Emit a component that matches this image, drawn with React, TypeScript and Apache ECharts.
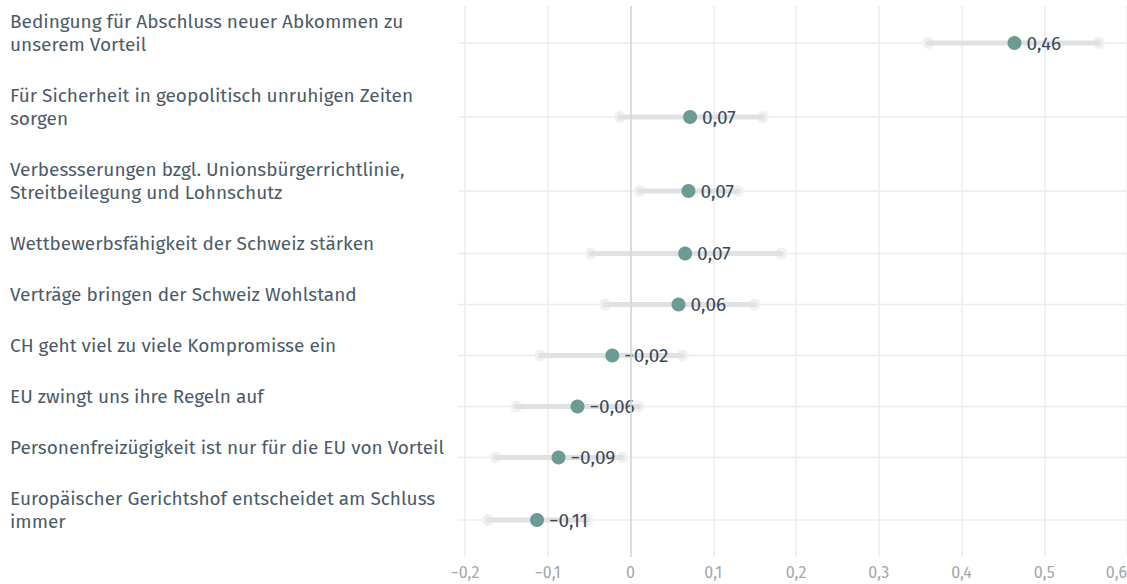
import React, { useEffect, useRef } from "react";
import * as echarts from "echarts";

const categories = [
  "Bedingung für Abschluss neuer Abkommen zu\nunserem Vorteil",
  "Für Sicherheit in geopolitisch unruhigen Zeiten\nsorgen",
  "Verbessserungen bzgl. Unionsbürgerrichtlinie,\nStreitbeilegung und Lohnschutz",
  "Wettbewerbsfähigkeit der Schweiz stärken",
  "Verträge bringen der Schweiz Wohlstand",
  "CH geht viel zu viele Kompromisse ein",
  "EU zwingt uns ihre Regeln auf",
  "Personenfreizügigkeit ist nur für die EU von Vorteil",
  "Europäischer Gerichtshof entscheidet am Schluss\nimmer",
];
const estimates = [0.464, 0.072, 0.07, 0.066, 0.058, -0.022, -0.064, -0.087, -0.113];
const ciLow = [0.36, -0.013, 0.011, -0.048, -0.031, -0.109, -0.138, -0.163, -0.172];
const ciHigh = [0.566, 0.16, 0.13, 0.182, 0.15, 0.063, 0.01, -0.01, -0.052];
const xTicks = [-0.2, -0.1, 0, 0.1, 0.2, 0.3, 0.4, 0.5, 0.6];

const FONT = "'Fira Sans', 'Open Sans', 'Noto Sans', sans-serif";

function fmt(v: number, digits: number): string {
  const s = Math.abs(v).toFixed(digits).replace(".", ",");
  if (Math.abs(v) < 1e-9) return "0";
  return (v < 0 ? "−" : "") + s;
}

// row layout: height grows with number of label lines
const rowHeights = categories.map((c) => 28 + 23 * c.split("\n").length);
const rowCenters: number[] = [];
{
  let acc = 0;
  rowHeights.forEach((h) => {
    rowCenters.push(acc + h / 2);
    acc += h;
  });
}
const totalHeight = rowHeights.reduce((a, b) => a + b, 0);

export default function App() {
  const ref = useRef<HTMLDivElement>(null);
  useEffect(() => {
    if (!ref.current) return;
    const chart = echarts.init(ref.current, undefined, { renderer: "svg" });
    const rows = categories.map((c, i) => [ciLow[i], ciHigh[i], rowCenters[i], i]);
    chart.setOption({
      animation: false,
      grid: {
        left: 465,
        right: 0,
        top: 6,
        bottom: 584 - 6 - totalHeight,
        containLabel: false,
        outerBoundsMode: "none",
      },
      xAxis: {
        type: "value",
        min: xTicks[0],
        max: xTicks[xTicks.length - 1],
        interval: 0.1,
        axisLine: { show: false },
        axisTick: { show: false },
        splitLine: { show: true, lineStyle: { color: "#ececec", width: 1.5 } },
        axisLabel: {
          color: "#a0a7ae",
          fontSize: 16,
          lineHeight: 18,
          fontFamily: FONT,
          margin: 6,
          hideOverlap: false,
          alignMaxLabel: "right",
          formatter: (v: number) => fmt(v, 1),
        },
      },
      yAxis: {
        type: "value",
        min: 0,
        max: totalHeight,
        inverse: true,
        show: false,
      },
      series: [
        {
          type: "custom",
          silent: true,
          data: rows,
          encode: { x: [0, 1], y: 2 },
          clip: false,
          renderItem: (params: any, api: any) => {
            const lo = api.coord([api.value(0), api.value(2)]);
            const hi = api.coord([api.value(1), api.value(2)]);
            const idx = api.value(3);
            const cs = params.coordSys;
            const y = lo[1];
            return {
              type: "group",
              children: [
                {
                  type: "line",
                  shape: { x1: cs.x - 7, y1: y, x2: cs.x + cs.width, y2: y },
                  style: { stroke: "#ececec", lineWidth: 1.5 },
                },
                {
                  type: "text",
                  x: 10,
                  y: y - 10.5,
                  style: {
                    text: categories[idx],
                    fill: "#4b5b69",
                    font: `19px ${FONT}`,
                    align: "left",
                    verticalAlign: "middle",
                    lineHeight: 23,
                  },
                },
                {
                  type: "circle",
                  shape: { cx: lo[0], cy: y, r: 6 },
                  style: { fill: "#f0f1f2" },
                },
                {
                  type: "circle",
                  shape: { cx: hi[0], cy: y, r: 6 },
                  style: { fill: "#f0f1f2" },
                },
                {
                  type: "line",
                  shape: { x1: lo[0], y1: y, x2: hi[0], y2: y },
                  style: { stroke: "#dfe2e5", lineWidth: 5, lineCap: "round" },
                },
              ],
            };
          },
          markLine: {
            silent: true,
            symbol: "none",
            label: { show: false },
            lineStyle: { color: "#d6d6d6", width: 1.5, type: "solid" },
            data: [{ xAxis: 0 }],
          },
          z: 1,
        },
        {
          type: "scatter",
          data: estimates.map((v, i) => [v, rowCenters[i]]),
          symbolSize: 14,
          itemStyle: { color: "#6c9a95", opacity: 1 },
          label: {
            show: true,
            position: "right",
            distance: 5,
            color: "#3b4856",
            fontSize: 19,
            fontFamily: FONT,
            formatter: (p: any) => fmt(p.value[0], 2),
          },
          z: 3,
        },
      ],
    });
    return () => chart.dispose();
  }, []);
  return (
    <div
      ref={ref}
      style={{ position: "absolute", left: 0, top: 0, width: 1127, height: 584, background: "#fff" }}
    />
  );
}
